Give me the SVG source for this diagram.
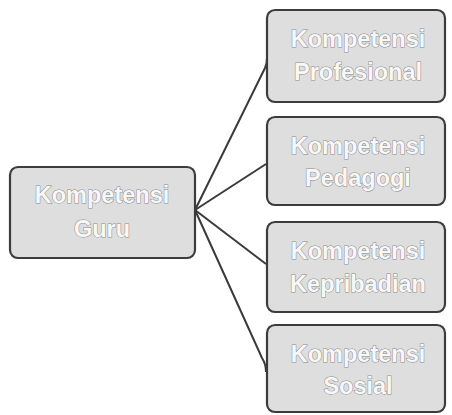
<svg xmlns="http://www.w3.org/2000/svg" width="452" height="415" viewBox="0 0 452 415">
<style>
.box{fill:#dedede;stroke:#3c3c3c;stroke-width:2.2}
.lbl{font-family:"Liberation Sans",Arial,sans-serif;font-size:23.5px;font-weight:bold;fill:#f7f7f7;stroke:#8a8a8a;stroke-width:1;paint-order:stroke;text-anchor:middle}
.con{fill:none;stroke:#3a3a3a;stroke-width:2}
</style>
<rect width="452" height="415" fill="#ffffff"/>
<g id="connectors">
<path class="con" d="M195,210 L265,68 Q267,64 267,58"/>
<path class="con" d="M195,210 L266,164"/>
<path class="con" d="M195,210 L266,264"/>
<path class="con" d="M195,210 L262,358 Q266,364 266,372"/>
</g>
<g id="guru">
<rect class="box" x="10" y="167" width="185" height="91" rx="8"/>
<text class="lbl" x="102" y="203">Kompetensi</text>
<text class="lbl" x="102" y="237">Guru</text>
</g>
<g id="profesional">
<rect class="box" x="267" y="10" width="178" height="92" rx="8"/>
<text class="lbl" x="358" y="47">Kompetensi</text>
<text class="lbl" x="358" y="80">Profesional</text>
</g>
<g id="pedagogi">
<rect class="box" x="267" y="117" width="178" height="88" rx="8"/>
<text class="lbl" x="358" y="154">Kompetensi</text>
<text class="lbl" x="358" y="186">Pedagogi</text>
</g>
<g id="kepribadian">
<rect class="box" x="267" y="222" width="178" height="90" rx="8"/>
<text class="lbl" x="358" y="259">Kompetensi</text>
<text class="lbl" x="358" y="292">Kepribadian</text>
</g>
<g id="sosial">
<rect class="box" x="267" y="325" width="178" height="87" rx="8"/>
<text class="lbl" x="358" y="362">Kompetensi</text>
<text class="lbl" x="358" y="394">Sosial</text>
</g>
</svg>
